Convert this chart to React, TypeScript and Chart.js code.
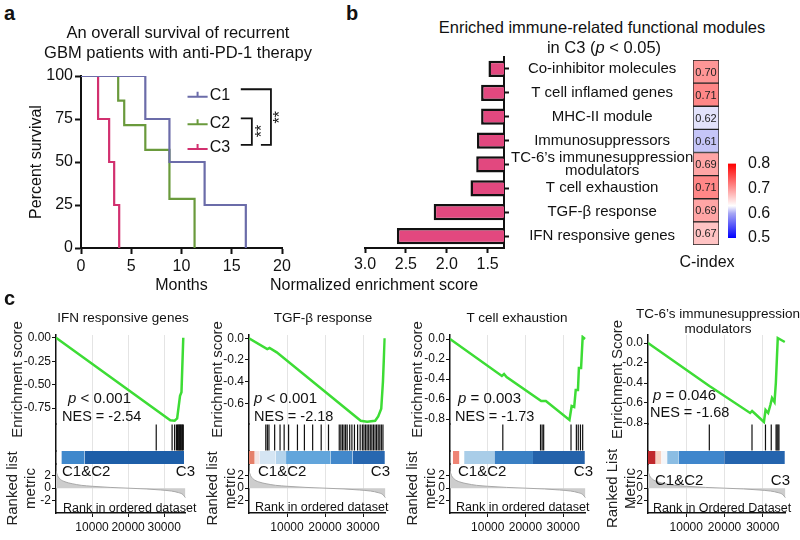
import React, { useEffect, useRef } from 'react';
import { Chart, registerables } from 'chart.js';

Chart.register(...registerables);

const FONT = "'Liberation Sans', Arial, Helvetica, sans-serif";
const f = (size: number, weight?: string) => ({ family: FONT, size, weight });

// ---------------- a: overall survival (Kaplan–Meier) ----------------
const kmGroups = ['C1', 'C2', 'C3'];
const kmColors = ['#6b6ca9', '#6a9a3c', '#d2306f'];
const c1Months = [0, 6.4, 8.8, 12.3, 16.4];
const c1Survival = [100, 75, 50, 25, 0];
const c2Months = [0, 3.7, 4.3, 6.4, 8.8, 11.3];
const c2Survival = [100, 85.7, 71.4, 57.1, 28.6, 0];
const c3Months = [0, 1.7, 2.8, 3.3, 3.8];
const c3Survival = [100, 75, 50, 25, 0];

// ---------------- b: enriched modules ----------------
const moduleLabels: any[] = [
  'Co-inhibitor molecules',
  'T cell inflamed genes',
  'MHC-II module',
  'Immunosuppressors',
  ['TC-6’s immunesuppression', 'modulators'],
  'T cell exhaustion',
  'TGF-β response',
  'IFN responsive genes',
];
const moduleNES = [1.49, 1.58, 1.58, 1.63, 1.64, 1.71, 2.16, 2.61];
const moduleCIndex = [0.70, 0.71, 0.62, 0.61, 0.69, 0.71, 0.69, 0.67];
const cIndexStops: [number, string][] = [
  [0.5, '#0000ff'],
  [0.6, '#a8a8f4'],
  [0.63, '#ffffff'],
  [0.8, '#ff0000'],
];

// ---------------- c: GSEA plots ----------------
const gseaRankTicks = [10000, 20000, 30000];
const rankMetricTicks = [-2, 0, 2];

const ifnRank = [0, 31700, 32900, 33600, 34400, 34800, 35300];
const ifnES = [0.0, -0.88, -0.885, -0.86, -0.62, -0.58, 0.0];
const ifnHits = [27800, 32200, 32900, 33400, 33700, 33900, 34100, 34300, 34500, 34700, 34900, 35100, 35300];
const ifnHeatEdges = [1500, 7900, 35500];
const ifnHeatColors = ['#3f88cc', '#1d5ea8'];
const ifnESTicks = [0, -0.25, -0.5, -0.75];

const tgfRank = [0, 4800, 5400, 7300, 29400, 31100, 33200, 34000, 34800, 35250, 35700];
const tgfES = [0.0, -0.1, -0.09, -0.13, -0.76, -0.77, -0.76, -0.72, -0.65, -0.4, 0.0];
const tgfHits = [4420, 4830, 5250, 6750, 8170, 9250, 10420, 12750, 14580, 16750, 19000, 20920, 23750, 24170, 24580, 25000, 25420, 25830, 26500, 27080, 27750, 28580, 29250, 29830, 30250, 30670, 31080, 31500, 31920, 32330, 32750, 33170, 33580, 34000, 34420, 34830, 35250];
const tgfHeatEdges = [0, 1500, 2750, 7000, 9750, 21500, 27250, 35750];
const tgfHeatColors = ['#e5806a', '#f3e6e6', '#d5e5f3', '#b4d3ec', '#62a5db', '#4288cb', '#2767b0'];
const tgfESTicks = [0, -0.2, -0.4, -0.6];

const texRank = [0, 13750, 14330, 15000, 24170, 25420, 31670, 32250, 32920, 33330, 33920, 34170, 34750, 35170, 35830];
const texES = [0.0, -0.37, -0.35, -0.38, -0.62, -0.62, -0.81, -0.67, -0.68, -0.51, -0.51, -0.29, -0.29, 0.02, 0.0];
const texHits = [14000, 24000, 24420, 24830, 32080, 33500, 34000, 34580, 35170];
const texHeatEdges = [750, 2500, 3750, 11750, 22000, 35750];
const texHeatColors = ['#ee8374', '#ffffff', '#a9cde8', '#3a80c4', '#2462aa'];
const texESTicks = [0, -0.2, -0.4, -0.6, -0.8];

const tcRank = [0, 16030, 16440, 26680, 27190, 27760, 30280, 30710, 31390, 31970, 32400, 33050, 33400, 33900, 35740];
const tcES = [0.0, -0.43, -0.44, -0.7, -0.68, -0.7, -0.79, -0.67, -0.7, -0.62, -0.55, -0.59, -0.4, 0.05, 0.01];
const tcHits = [16020, 27170, 30690, 32200, 33460, 33710, 33960, 34210];
const tcHeatEdges = [0, 2000, 3500, 5000, 8050, 19900, 35750];
const tcHeatColors = ['#c0282c', '#f6d2c2', '#f4f6fa', '#8bbde3', '#3f86cc', '#2464ae'];
const tcESTicks = [0, -0.2, -0.4, -0.6, -0.8];

const rankPos = [0, 400, 1200, 2500, 4500, 7000, 10000, 15000, 20000, 25000, 29000, 32000, 34000, 35200, 35900];
const rankMetric = [2.7, 2.0, 1.4, 1.0, 0.7, 0.45, 0.3, 0.12, 0.0, -0.12, -0.28, -0.45, -0.7, -1.0, -1.5];

// ---------------- helpers ----------------
function hexToRgb(h: string) {
  const n = parseInt(h.slice(1), 16);
  return [(n >> 16) & 255, (n >> 8) & 255, n & 255];
}
function cmap(v: number) {
  const s = cIndexStops;
  if (v <= s[0][0]) return s[0][1];
  for (let i = 1; i < s.length; i++) {
    if (v <= s[i][0]) {
      const t = (v - s[i - 1][0]) / (s[i][0] - s[i - 1][0]);
      const a = hexToRgb(s[i - 1][1]);
      const b = hexToRgb(s[i][1]);
      return `rgb(${a.map((c, k) => Math.round(c + (b[k] - c) * t)).join(',')})`;
    }
  }
  return s[s.length - 1][1];
}
const fixedTicks = (values: number[]) => (s: any) => {
  s.ticks = values.map((value) => ({ value }));
};

function ChartCanvas({ left, top, width, height, make }: any) {
  const ref = useRef<HTMLCanvasElement | null>(null);
  useEffect(() => {
    const chart = new Chart(ref.current as HTMLCanvasElement, make());
    return () => chart.destroy();
  }, []);
  return (
    <canvas
      ref={ref}
      width={width}
      height={height}
      style={{ position: 'absolute', left, top, width, height }}
    />
  );
}

function Label({ x, y, size = 15, align = 'left', bold = false, lh, children }: any) {
  const w = 400;
  const lineH = lh || size * 1.2;
  const left = align === 'left' ? x : align === 'center' ? x - w / 2 : x - w;
  return (
    <div
      style={{
        position: 'absolute',
        left,
        top: y - lineH / 2,
        width: w,
        textAlign: align,
        fontSize: size,
        lineHeight: `${lineH}px`,
        fontWeight: bold ? 700 : 400,
        whiteSpace: 'nowrap',
        color: '#111',
      }}
    >
      {children}
    </div>
  );
}

const noUI = { legend: { display: false }, tooltip: { enabled: false } };

// ---------------- a config ----------------
const kmAnnotations = {
  id: 'kmAnnotations',
  afterDatasetsDraw(chart: any) {
    const { ctx, scales } = chart;
    const px = (m: number) => scales.x.getPixelForValue(m);
    const py = (p: number) => scales.y.getPixelForValue(p);
    const legendY = [88, 72, 57.6];
    ctx.save();
    chart.data.datasets.forEach((ds: any, i: number) => {
      const yy = py(legendY[i]);
      ctx.strokeStyle = ds.borderColor;
      ctx.lineWidth = 2;
      ctx.beginPath();
      ctx.moveTo(px(10.6), yy);
      ctx.lineTo(px(12.6), yy);
      ctx.moveTo(px(11.6), yy);
      ctx.lineTo(px(11.6), yy - 5);
      ctx.stroke();
      ctx.fillStyle = '#111';
      ctx.font = `16px ${FONT}`;
      ctx.textAlign = 'left';
      ctx.textBaseline = 'middle';
      ctx.fillText(ds.label, px(12.8), yy - 1);
    });
    ctx.strokeStyle = '#111';
    ctx.lineWidth = 1.8;
    const yTop = py(92.3);
    const yMid = py(75.4);
    const yBot = py(59.9);
    ctx.beginPath();
    ctx.moveTo(px(15.9), yTop);
    ctx.lineTo(px(18.9), yTop);
    ctx.lineTo(px(18.9), yBot);
    ctx.lineTo(px(17.9), yBot);
    ctx.moveTo(px(15.9), yMid);
    ctx.lineTo(px(17.0), yMid);
    ctx.lineTo(px(17.0), yBot);
    ctx.lineTo(px(15.9), yBot);
    ctx.stroke();
    ctx.fillStyle = '#111';
    ctx.font = `16px ${FONT}`;
    [[19.6, 76], [17.8, 68]].forEach(([m, p]) => {
      ctx.save();
      ctx.translate(px(m), py(p));
      ctx.rotate(-Math.PI / 2);
      ctx.textAlign = 'center';
      ctx.textBaseline = 'middle';
      ctx.fillText('**', 0, 3);
      ctx.restore();
    });
    ctx.restore();
  },
};

function kmConfig(): any {
  const series = [
    [c1Months, c1Survival],
    [c2Months, c2Survival],
    [c3Months, c3Survival],
  ];
  return {
    type: 'line',
    data: {
      datasets: series.map(([m, s], i) => ({
        label: kmGroups[i],
        data: m.map((x, j) => ({ x, y: s[j] })),
        borderColor: kmColors[i],
        borderWidth: 2.2,
        stepped: 'before',
        pointRadius: 0,
        fill: false,
      })),
    },
    options: {
      animation: false,
      responsive: false,
      devicePixelRatio: 1,
      layout: { padding: { top: 16, right: 18, left: 0, bottom: 0 } },
      plugins: noUI,
      scales: {
        x: {
          type: 'linear',
          min: 0,
          max: 20,
          ticks: { stepSize: 5, font: f(16), color: '#111', padding: 3, autoSkip: false },
          grid: { drawOnChartArea: false, tickLength: 6, tickColor: '#111', tickWidth: 2 },
          border: { color: '#111', width: 2 },
          title: { display: true, text: 'Months', font: f(16), color: '#111', padding: { top: 0, bottom: 1 } },
          afterFit: (s: any) => { s.height = 48; },
        },
        y: {
          min: 0,
          max: 100,
          ticks: { stepSize: 25, font: f(16), color: '#111', padding: 2, autoSkip: false },
          grid: { drawOnChartArea: false, tickLength: 6, tickColor: '#111', tickWidth: 2 },
          border: { color: '#111', width: 2 },
          title: { display: true, text: 'Percent survival', font: f(16), color: '#111', padding: { top: 27, bottom: 0 } },
          afterFit: (s: any) => { s.width = 81; },
        },
      },
    },
    plugins: [kmAnnotations],
  };
}

// ---------------- b configs ----------------
function barConfig(): any {
  return {
    type: 'bar',
    data: {
      labels: moduleLabels,
      datasets: [
        {
          data: moduleNES,
          backgroundColor: '#e2487f',
          borderColor: '#111',
          borderWidth: 2.5,
          borderSkipped: false,
          barPercentage: 0.68,
          categoryPercentage: 1,
        },
      ],
    },
    options: {
      indexAxis: 'y',
      animation: false,
      responsive: false,
      devicePixelRatio: 1,
      layout: { padding: { top: 17, left: 65, right: 0, bottom: 22 } },
      plugins: noUI,
      scales: {
        x: {
          type: 'linear',
          reverse: true,
          min: 1.3,
          max: 3.0,
          ticks: { callback: (v: number) => v.toFixed(1), font: f(16), color: '#111', padding: 2, autoSkip: false },
          afterBuildTicks: fixedTicks([1.5, 2.0, 2.5, 3.0]),
          grid: { drawOnChartArea: false, tickLength: 5, tickColor: '#111', tickWidth: 2 },
          border: { color: '#111', width: 2 },
          afterFit: (s: any) => { s.height = 30; },
        },
        y: {
          position: 'right',
          ticks: { font: { family: FONT, size: 15, lineHeight: 0.85 }, color: '#111', crossAlign: 'center', padding: 2, autoSkip: false },
          grid: { drawOnChartArea: false, offset: false, tickLength: 5, tickColor: '#111', tickWidth: 2 },
          border: { color: '#111', width: 2 },
          afterFit: (s: any) => { s.width = 196; },
        },
      },
    },
  };
}

const cellText = {
  id: 'cellText',
  afterDatasetsDraw(chart: any) {
    const { ctx } = chart;
    const meta = chart.getDatasetMeta(0);
    ctx.save();
    ctx.font = `11px ${FONT}`;
    ctx.fillStyle = '#222';
    ctx.textAlign = 'center';
    ctx.textBaseline = 'middle';
    meta.data.forEach((el: any, i: number) => {
      const { x, y, base } = el.getProps(['x', 'y', 'base'], true);
      ctx.fillText(moduleCIndex[i].toFixed(2), (x + base) / 2, y + 1);
    });
    ctx.restore();
  },
};

function heatConfig(): any {
  return {
    type: 'bar',
    data: {
      labels: moduleLabels.map((l) => (Array.isArray(l) ? l.join(' ') : l)),
      datasets: [
        {
          data: moduleCIndex.map(() => [0, 1]),
          backgroundColor: moduleCIndex.map(cmap),
          borderColor: '#222',
          borderWidth: 1,
          borderSkipped: false,
          barPercentage: 1,
          categoryPercentage: 1,
        },
      ],
    },
    options: {
      indexAxis: 'y',
      animation: false,
      responsive: false,
      devicePixelRatio: 1,
      layout: { padding: { top: 20, left: 13, right: 21, bottom: 55 } },
      plugins: noUI,
      scales: {
        x: { type: 'linear', min: 0, max: 1, display: false },
        y: { display: false },
      },
    },
    plugins: [cellText],
  };
}

function colorbarConfig(): any {
  const lo = cIndexStops[0][0];
  const hi = cIndexStops[cIndexStops.length - 1][0];
  return {
    type: 'bar',
    data: {
      labels: ['C-index'],
      datasets: [
        {
          data: [[lo, hi]],
          borderWidth: 0,
          barPercentage: 1,
          categoryPercentage: 1,
          backgroundColor: (ctx: any) => {
            const chart = ctx.chart;
            if (!chart.chartArea) return '#ccc';
            const y = chart.scales.y;
            const g = chart.ctx.createLinearGradient(0, y.getPixelForValue(lo), 0, y.getPixelForValue(hi));
            cIndexStops.forEach(([v, c]) => g.addColorStop((v - lo) / (hi - lo), c));
            return g;
          },
        },
      ],
    },
    options: {
      animation: false,
      responsive: false,
      devicePixelRatio: 1,
      layout: { padding: { top: 12, left: 8, right: 0, bottom: 22 } },
      plugins: noUI,
      scales: {
        x: { display: false },
        y: {
          position: 'right',
          min: lo,
          max: hi,
          ticks: { callback: (v: number) => v.toFixed(1), font: f(16), color: '#111', padding: 4, autoSkip: false },
          afterBuildTicks: fixedTicks([0.5, 0.6, 0.7, 0.8]),
          grid: { display: false },
          border: { display: false },
          afterFit: (s: any) => { s.width = 54; },
        },
      },
    },
  };
}

// ---------------- c configs ----------------
const gseaPanels = [
  { rank: ifnRank, es: ifnES, hits: ifnHits, edges: ifnHeatEdges, colors: ifnHeatColors, esTicks: ifnESTicks, esMin: -0.92, esMax: 0.03, digits: 2, esTitle: 'Enrichment score', rankTitle: ['Ranked list', 'metric'], left: 0, yWidth: 56, padRight: 3 },
  { rank: tgfRank, es: tgfES, hits: tgfHits, edges: tgfHeatEdges, colors: tgfHeatColors, esTicks: tgfESTicks, esMin: -0.79, esMax: 0.03, digits: 1, esTitle: 'Enrichment score', rankTitle: ['Ranked list', 'metric'], left: 200, yWidth: 49, padRight: 7 },
  { rank: texRank, es: texES, hits: texHits, edges: texHeatEdges, colors: texHeatColors, esTicks: texESTicks, esMin: -0.85, esMax: 0.04, digits: 1, esTitle: 'Enrichment score', rankTitle: ['Ranked list', 'metric'], left: 400, yWidth: 50, padRight: 6 },
  { rank: tcRank, es: tcES, hits: tcHits, edges: tcHeatEdges, colors: tcHeatColors, esTicks: tcESTicks, esMin: -0.81, esMax: 0.08, digits: 1, esTitle: 'Enrichment Score', rankTitle: ['Ranked List', 'Metric'], left: 600, yWidth: 48, padRight: 9 },
];

function gseaConfig(p: any): any {
  const fitW = (s: any) => { s.width = p.yWidth; };
  const heatSets = p.colors.map((c: string, i: number) => ({
    type: 'line',
    yAxisID: 'yHeat',
    data: [
      { x: p.edges[i], y: 1 },
      { x: p.edges[i + 1], y: 1 },
    ],
    borderWidth: 0,
    pointRadius: 0,
    fill: 'origin',
    backgroundColor: c,
  }));
  return {
    type: 'line',
    data: {
      datasets: [
        {
          type: 'line',
          yAxisID: 'yES',
          data: p.rank.map((x: number, i: number) => ({ x, y: p.es[i] })),
          borderColor: '#3ddc35',
          borderWidth: 2.5,
          pointRadius: 0,
          tension: 0,
          fill: false,
        },
        {
          type: 'scatter',
          yAxisID: 'yHit',
          data: p.hits.map((x: number) => ({ x, y: 0.5 })),
          pointStyle: 'line',
          pointRotation: 90,
          pointRadius: 13,
          pointHoverRadius: 13,
          pointBorderColor: '#111',
          pointBorderWidth: 1.2,
          showLine: false,
        },
        ...heatSets,
        {
          type: 'line',
          yAxisID: 'yRank',
          data: rankPos.map((x, i) => ({ x, y: rankMetric[i] })),
          borderColor: '#a8a8a8',
          borderWidth: 1,
          backgroundColor: '#cdcdcd',
          fill: { value: 0 },
          pointRadius: 0,
          cubicInterpolationMode: 'monotone',
        },
      ],
    },
    options: {
      animation: false,
      responsive: false,
      devicePixelRatio: 1,
      layout: { padding: { top: 35, left: 0, right: p.padRight, bottom: 5 } },
      plugins: noUI,
      scales: {
        x: {
          type: 'linear',
          min: 0,
          max: 36000,
          ticks: { callback: (v: number) => String(v), font: f(12), color: '#111', padding: 3, maxRotation: 0, autoSkip: false },
          afterBuildTicks: fixedTicks(gseaRankTicks),
          grid: { color: '#e4e4e4', lineWidth: 1, tickLength: 4, tickColor: '#111' },
          border: { color: '#111', width: 1.5 },
          afterFit: (s: any) => { s.height = 22; },
        },
        yES: {
          type: 'linear',
          position: 'left',
          stack: 'gsea',
          stackWeight: 89,
          weight: 4,
          min: p.esMin,
          max: p.esMax,
          ticks: {
            callback: (v: number) => (Math.abs(v) < 1e-9 ? 0 : v).toFixed(p.digits),
            font: f(12),
            color: '#111',
            padding: 1,
            autoSkip: false,
          },
          afterBuildTicks: fixedTicks(p.esTicks),
          grid: { drawOnChartArea: false, tickLength: 4, tickColor: '#111' },
          border: { color: '#111', width: 1.5 },
          title: { display: true, text: p.esTitle, font: f(15), color: '#222', padding: { top: 9, bottom: 0 } },
          afterFit: fitW,
        },
        yHit: {
          type: 'linear',
          position: 'left',
          stack: 'gsea',
          stackWeight: 27,
          weight: 3,
          min: 0,
          max: 1,
          ticks: { display: false },
          grid: { display: false },
          border: { color: '#111', width: 1.5 },
          afterFit: fitW,
        },
        yHeat: {
          type: 'linear',
          position: 'left',
          stack: 'gsea',
          stackWeight: 13,
          weight: 2,
          min: 0,
          max: 1,
          ticks: { display: false },
          grid: { display: false },
          border: { color: '#111', width: 1.5 },
          afterFit: fitW,
        },
        yRank: {
          type: 'linear',
          position: 'left',
          stack: 'gsea',
          stackWeight: 49,
          weight: 1,
          min: -3.9,
          max: 3.8,
          ticks: { font: f(12), color: '#111', padding: 1, autoSkip: false },
          afterBuildTicks: fixedTicks(rankMetricTicks),
          grid: { drawOnChartArea: false, tickLength: 4, tickColor: '#111' },
          border: { color: '#111', width: 1.5 },
          title: { display: true, text: p.rankTitle, font: f(15), color: '#222', padding: { top: 4, bottom: 0 } },
          afterFit: fitW,
        },
      },
    },
  };
}

const P = ({ children }: any) => <i>{children}</i>;

export default function App() {
  return (
    <div
      style={{
        position: 'absolute',
        left: 0,
        top: 0,
        width: 800,
        height: 540,
        background: '#fff',
        overflow: 'hidden',
        fontFamily: FONT,
        color: '#111',
      }}
    >
      <ChartCanvas left={0} top={60} width={300} height={236} make={kmConfig} />
      <ChartCanvas left={300} top={40} width={400} height={260} make={barConfig} />
      <ChartCanvas left={680} top={40} width={60} height={260} make={heatConfig} />
      <ChartCanvas left={720} top={150} width={70} height={110} make={colorbarConfig} />
      {gseaPanels.map((p, i) => (
        <ChartCanvas key={i} left={p.left} top={300} width={200} height={240} make={() => gseaConfig(p)} />
      ))}

      {/* panel letters */}
      <Label x={4} y={13} size={20} bold>a</Label>
      <Label x={346} y={13} size={20} bold>b</Label>
      <Label x={4} y={298} size={20} bold>c</Label>

      {/* panel a title */}
      <Label x={178} y={33} size={16.5} align="center">An overall survival of recurrent</Label>
      <Label x={178} y={53} size={16.5} align="center">GBM patients with anti-PD-1 therapy</Label>

      {/* panel b titles */}
      <Label x={602} y={28} size={16.5} align="center">Enriched immune-related functional modules</Label>
      <Label x={604} y={48} size={16.5} align="center">in C3 (<P>p</P> &lt; 0.05)</Label>
      <Label x={374} y={285} size={16} align="center">Normalized enrichment score</Label>
      <Label x={707} y={262} size={16} align="center">C-index</Label>

      {/* panel c titles */}
      <Label x={123} y={318} size={13.5} align="center">IFN responsive genes</Label>
      <Label x={323} y={318} size={13.5} align="center">TGF-β response</Label>
      <Label x={517} y={318} size={13.5} align="center">T cell exhaustion</Label>
      <Label x={718} y={313} size={13.5} align="center" lh={15}>TC-6’s immunesuppression</Label>
      <Label x={718} y={328} size={13.5} align="center" lh={15}>modulators</Label>

      {/* panel c annotations */}
      <Label x={68} y={398} size={15}><P>p</P> &lt; 0.001</Label>
      <Label x={62} y={417} size={14.5}>NES = -2.54</Label>
      <Label x={62} y={471} size={15}>C1&amp;C2</Label>
      <Label x={195} y={471} size={15} align="right">C3</Label>
      <Label x={63} y={508} size={12.5}>Rank in ordered dataset</Label>

      <Label x={254} y={398} size={15}><P>p</P> &lt; 0.001</Label>
      <Label x={254} y={417} size={14.5}>NES = -2.18</Label>
      <Label x={258} y={471} size={15}>C1&amp;C2</Label>
      <Label x={390} y={471} size={15} align="right">C3</Label>
      <Label x={255} y={507} size={12.5}>Rank in ordered dataset</Label>

      <Label x={458} y={398} size={15}><P>p</P> = 0.003</Label>
      <Label x={455} y={417} size={14.5}>NES = -1.73</Label>
      <Label x={458} y={471} size={15}>C1&amp;C2</Label>
      <Label x={593} y={471} size={15} align="right">C3</Label>
      <Label x={456} y={507} size={12.5}>Rank in ordered dataset</Label>

      <Label x={653} y={395} size={15}><P>p</P> = 0.046</Label>
      <Label x={650} y={413} size={14.5}>NES = -1.68</Label>
      <Label x={655} y={480} size={15}>C1&amp;C2</Label>
      <Label x={790} y={480} size={15} align="right">C3</Label>
      <Label x={653} y={508} size={12.5}>Rank in Ordered Dataset</Label>
    </div>
  );
}
